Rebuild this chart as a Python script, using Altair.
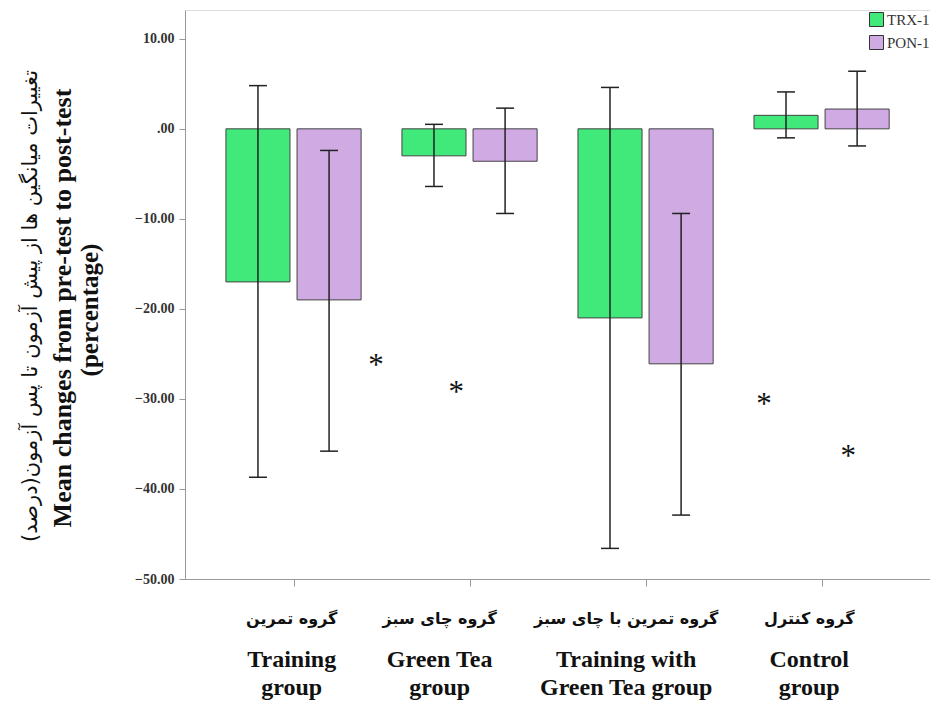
import altair as alt
import pandas as pd

# ---- data ----
groups = ["Training group", "Green Tea group", "Training with Green Tea group", "Control group"]
series = ["TRX-1", "PON-1"]
trx_mean = [-17.0, -3.0, -21.0, 1.5]
trx_hi = [4.8, 0.5, 4.6, 4.1]
trx_lo = [-38.7, -6.4, -46.6, -1.0]
pon_mean = [-19.0, -3.6, -26.1, 2.2]
pon_hi = [-2.4, 2.3, -9.4, 6.4]
pon_lo = [-35.8, -9.4, -42.9, -1.9]

# outlier asterisks (x in group units, y value)
ast_x = [1.469, 1.925, 3.673, 4.151]
ast_y = [-25.7, -28.7, -30.0, -35.8]

fa_labels = ["گروه تمرین", "گروه چای سبز", "گروه تمرین با چای سبز", "گروه کنترل"]
en_labels = ["Training\ngroup", "Green Tea\ngroup", "Training with\nGreen Tea group", "Control\ngroup"]
label_x = [0.99, 1.83, 2.89, 3.93]

y_ticks = [10, 0, -10, -20, -30, -40, -50]
title_fa = "تغییرات میانگین ها از پیش آزمون تا پس آزمون(درصد)"
title_en = "Mean changes from pre-test to post-test"
title_en2 = "(percentage)"

# ---- build table ----
BAR_IN, BAR_OUT, CAP = 0.02, 0.384, 0.051
rows = []
for i, g in enumerate(groups):
    c = i + 1
    for s, m, lo, hi in [("TRX-1", trx_mean[i], trx_lo[i], trx_hi[i]),
                         ("PON-1", pon_mean[i], pon_lo[i], pon_hi[i])]:
        if s == "TRX-1":
            x0, x1 = c - BAR_OUT, c - BAR_IN
        else:
            x0, x1 = c + BAR_IN, c + BAR_OUT
        xc = (x0 + x1) / 2
        rows.append(dict(group=g, series=s, mean=m, lo=lo, hi=hi, zero=0.0,
                         x0=x0, x1=x1, xc=xc, c0=xc - CAP, c1=xc + CAP))
df = pd.DataFrame(rows)
ast_df = pd.DataFrame({"x": ast_x, "y": ast_y, "t": ["*"] * len(ast_x)})
lab_df = pd.DataFrame({"x": label_x, "fa": fa_labels, "en": en_labels})

W, H = 745, 569
xscale = alt.Scale(domain=[0.3835, 4.616], nice=False, zero=False)
yscale = alt.Scale(domain=[-50, 13.2], nice=False, zero=False)
xaxis = alt.Axis(values=[1, 2, 3, 4], labels=False, title=None, grid=False,
                 domainColor="#999999", tickColor="#999999", tickSize=7)
yaxis = alt.Axis(values=y_ticks, title=None, grid=False,
                 labelExpr="datum.value == 0 ? '.00' : format(datum.value, '.2f')",
                 labelFont="Liberation Serif", labelFontSize=14, labelFontWeight="bold",
                 labelColor="#333333", labelPadding=5,
                 domainColor="#999999", tickColor="#999999", tickSize=6)

base = alt.Chart(df)
color = alt.Color("series:N", scale=alt.Scale(domain=series, range=["#40E97A", "#D0AAE3"]),
                  legend=alt.Legend(title=None, orient="none", legendX=684, legendY=2,
                                    symbolType="square", symbolSize=196,
                                    symbolStrokeColor="#333333", symbolStrokeWidth=1,
                                    labelFont="Liberation Serif", labelFontSize=15,
                                    labelColor="#333333", rowPadding=4, labelOffset=3,
                                    padding=0))

bars = base.mark_bar(stroke="#444444", strokeWidth=1).encode(
    x=alt.X("x0:Q", scale=xscale, axis=xaxis), x2="x1:Q",
    y=alt.Y("mean:Q", scale=yscale, axis=yaxis), y2="zero:Q",
    color=color)

err = base.mark_rule(color="#222222", strokeWidth=1.5).encode(
    x=alt.X("xc:Q", scale=xscale, axis=xaxis),
    y=alt.Y("lo:Q", scale=yscale, axis=yaxis), y2="hi:Q")
cap_hi = base.mark_rule(color="#222222", strokeWidth=1.5).encode(
    x=alt.X("c0:Q", scale=xscale, axis=xaxis), x2="c1:Q",
    y=alt.Y("hi:Q", scale=yscale, axis=yaxis))
cap_lo = base.mark_rule(color="#222222", strokeWidth=1.5).encode(
    x=alt.X("c0:Q", scale=xscale, axis=xaxis), x2="c1:Q",
    y=alt.Y("lo:Q", scale=yscale, axis=yaxis))

ast = alt.Chart(ast_df).mark_text(font="Liberation Serif", fontSize=31, color="#111111",
                                  baseline="middle", dy=6).encode(
    x=alt.X("x:Q", scale=xscale, axis=xaxis),
    y=alt.Y("y:Q", scale=yscale, axis=yaxis), text="t:N")

lab_fa = alt.Chart(lab_df).mark_text(font="DejaVu Sans", fontSize=16, fontWeight="bold",
                                     color="#111111", baseline="middle").encode(
    x=alt.X("x:Q", scale=xscale, axis=xaxis), y=alt.value(609), text="fa:N")
lab_en = alt.Chart(lab_df).mark_text(font="Liberation Serif", fontSize=24, fontWeight="bold",
                                     color="#111111", baseline="alphabetic",
                                     lineBreak="\n", lineHeight=28).encode(
    x=alt.X("x:Q", scale=xscale, axis=xaxis), y=alt.value(657), text="en:N")

t_df = pd.DataFrame({"fa": [title_fa], "en": [title_en], "en2": [title_en2]})
tfa = alt.Chart(t_df).mark_text(font="DejaVu Sans", fontSize=21, color="#111111",
                                angle=270, baseline="middle").encode(
    x=alt.value(-154), y=alt.value(296), text="fa:N")
ten = alt.Chart(t_df).mark_text(font="Liberation Serif", fontSize=26, fontWeight="bold",
                                color="#111111", angle=270, baseline="middle").encode(
    x=alt.value(-122), y=alt.value(298), text="en:N")
ten2 = alt.Chart(t_df).mark_text(font="Liberation Serif", fontSize=25, fontWeight="bold",
                                 color="#111111", angle=270, baseline="middle").encode(
    x=alt.value(-95), y=alt.value(300), text="en2:N")

chart = alt.layer(bars, err, cap_hi, cap_lo, ast, lab_fa, lab_en, tfa, ten, ten2).properties(
    width=W, height=H,
    autosize=alt.AutoSizeParams(type="none"),
    padding={"left": 177, "top": 2, "right": 0, "bottom": 125},
).configure_view(stroke=None).configure(background="white")

chart.save("out.html", embed_options={"renderer": "svg", "actions": False})
